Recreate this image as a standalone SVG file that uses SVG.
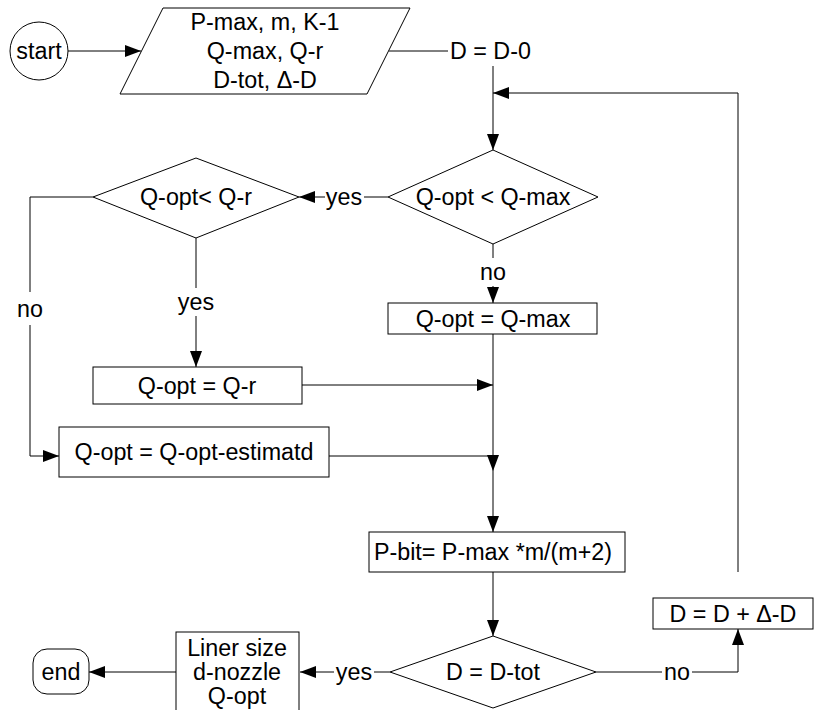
<svg xmlns="http://www.w3.org/2000/svg" width="815" height="710" viewBox="0 0 815 710">
<defs>
<marker id="ah" markerUnits="userSpaceOnUse" markerWidth="16" markerHeight="12" refX="16" refY="6" orient="auto">
<path d="M0,0 L16,6 L0,12 z" fill="#000"/>
</marker>
</defs>
<style>
.s{fill:#fff;stroke:#000;stroke-width:1}
.c{fill:none;stroke:#000;stroke-width:1}
.a{marker-end:url(#ah)}
text{font-family:"Liberation Sans",Arial,sans-serif;font-size:23.3px;fill:#000;text-anchor:middle;dominant-baseline:central}
</style>
<rect width="815" height="710" fill="#fff"/>
<g id="start"><circle class="s" cx="39" cy="51" r="29"/><text x="39" y="51">start</text></g>
<g id="input"><polygon class="s" points="163,8 410,8 367,94 120,94"/><text x="265" y="22">P-max, m, K-1</text><text x="265" y="51">Q-max, Q-r</text><text x="265" y="80">D-tot, Δ-D</text></g>
<g id="init"><text x="450" y="51" style="text-anchor:start">D = D-0</text></g>
<g id="dec1"><polygon class="s" points="493,150 598,197 493,244 388,197"/><text x="493" y="197">Q-opt &lt; Q-max</text></g>
<g id="dec2"><polygon class="s" points="196,158 299,197 196,238 93,197"/><text x="196" y="197">Q-opt&lt; Q-r</text></g>
<g id="qmax"><rect class="s" x="388" y="303" width="209" height="31"/><text x="493" y="318.5">Q-opt = Q-max</text></g>
<g id="qr"><rect class="s" x="93" y="367" width="209" height="37"/><text x="197" y="385.5">Q-opt = Q-r</text></g>
<g id="qest"><rect class="s" x="59" y="427" width="270" height="50"/><text x="194" y="452">Q-opt = Q-opt-estimatd</text></g>
<g id="pbit"><rect class="s" x="369" y="532" width="256" height="40"/><text x="493" y="552">P-bit= P-max *m/(m+2)</text></g>
<g id="dec3"><polygon class="s" points="493,636 596,672 493,708 390,672"/><text x="493" y="672">D = D-tot</text></g>
<g id="dinc"><rect class="s" x="653" y="598" width="160" height="31"/><text x="733" y="613.5">D = D + Δ-D</text></g>
<g id="out"><rect class="s" x="176" y="632" width="123" height="90"/><text x="237" y="648">Liner size</text><text x="237" y="672">d-nozzle</text><text x="237" y="696">Q-opt</text></g>
<g id="end"><rect class="s" x="33" y="649" width="56" height="45" rx="14"/><text x="61" y="671.5">end</text></g>
<g id="connectors">
<path class="c a" d="M68,51 H141"/>
<path class="c" d="M389,51 H448"/>
<path class="c a" d="M493,66 V150"/>
<path class="c a" d="M738,572 V93 H493"/>
<path class="c" d="M388,197 H364"/>
<text x="344" y="197">yes</text>
<path class="c a" d="M325,197 H299"/>
<path class="c" d="M493,244 V258"/>
<text x="493" y="272">no</text>
<path class="c a" d="M493,286 V303"/>
<path class="c" d="M196,238 V288"/>
<text x="196" y="302">yes</text>
<path class="c a" d="M196,316 V367"/>
<path class="c" d="M93,197 H30 V292"/>
<text x="30" y="309">no</text>
<path class="c a" d="M30,325 V456 H59"/>
<path class="c a" d="M302,385 H493"/>
<path class="c a" d="M493,334 V471"/>
<path class="c a" d="M493,471 V532"/>
<path class="c" d="M329,456 H493"/>
<path class="c a" d="M493,572 V636"/>
<path class="c" d="M596,672 H662"/>
<text x="677" y="672">no</text>
<path class="c a" d="M692,672 H738 V629"/>
<path class="c" d="M390,672 H374"/>
<text x="354" y="672">yes</text>
<path class="c a" d="M334,672 H300"/>
<path class="c a" d="M176,672 H89"/>
</g>
</svg>
